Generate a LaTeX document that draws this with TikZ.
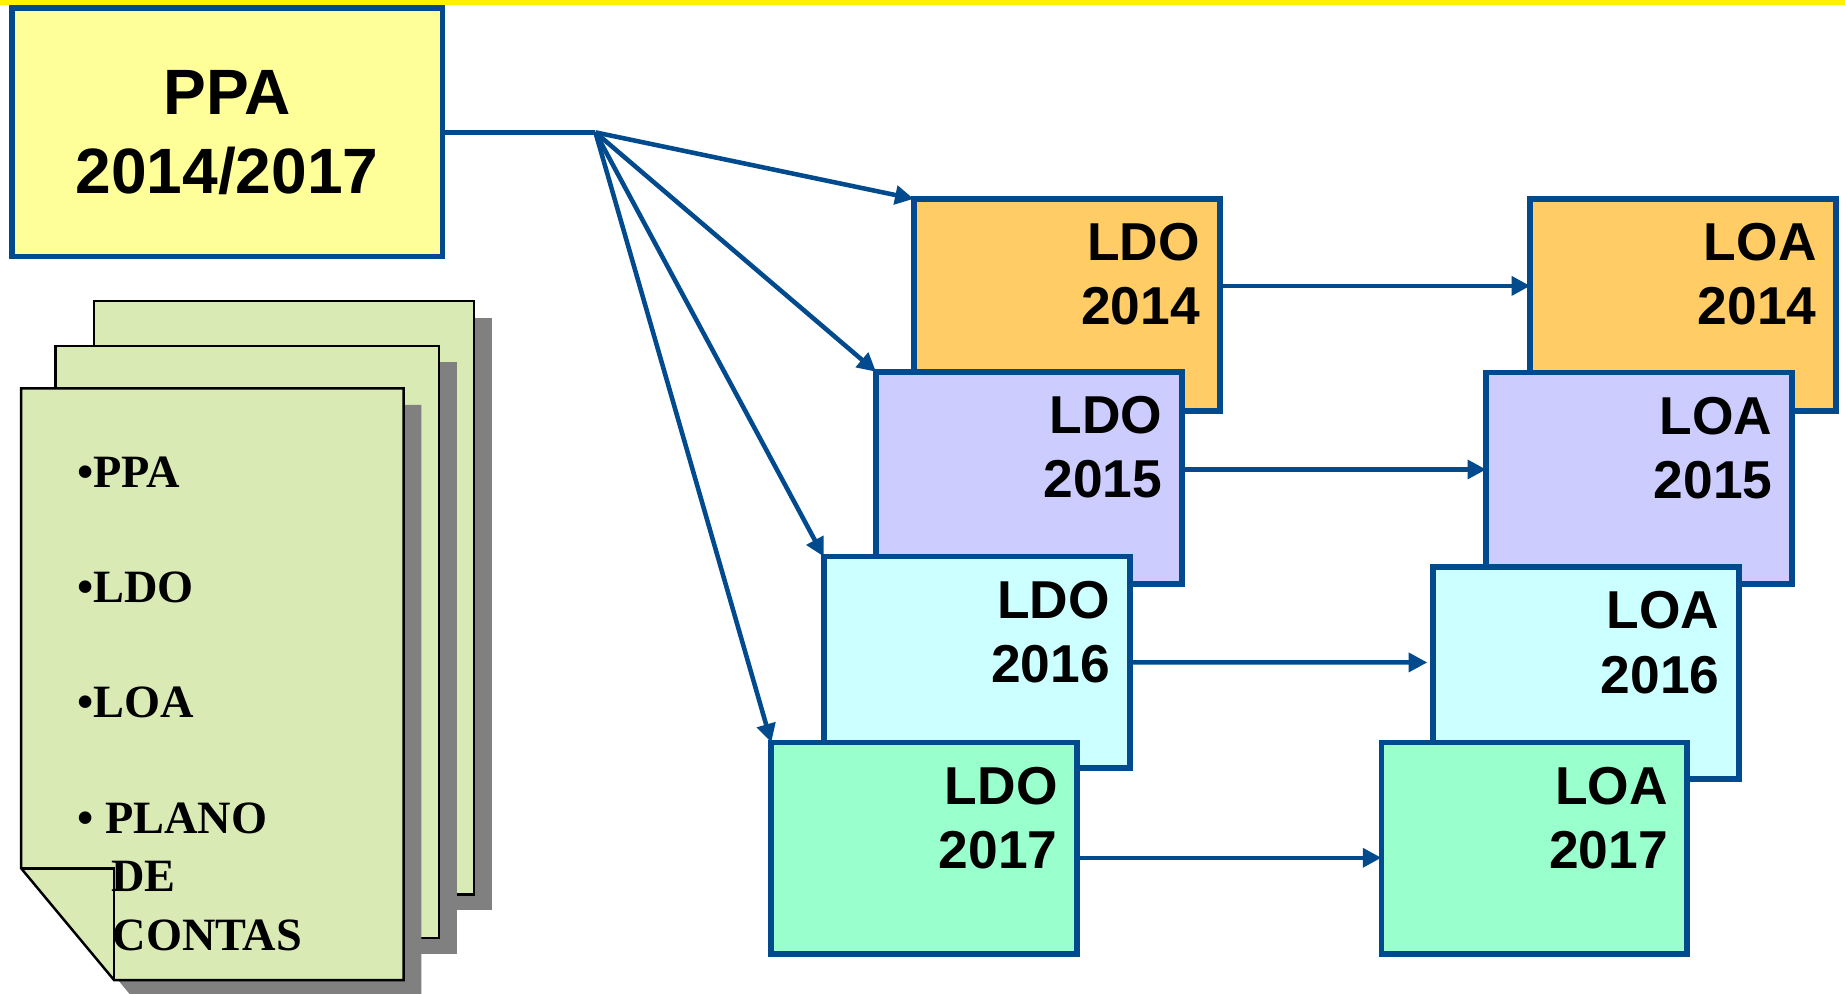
\documentclass[tikz,border=0pt]{standalone}
\usepackage{fontspec}
\setmainfont{Liberation Serif}
\setsansfont{Liberation Sans}
\usetikzlibrary{arrows.meta}

\definecolor{lineblue}{HTML}{004A8D}
\definecolor{ppafill}{HTML}{FFFF99}
\definecolor{fill14}{HTML}{FFCC66}
\definecolor{fill15}{HTML}{CCCCFF}
\definecolor{fill16}{HTML}{CCFFFF}
\definecolor{fill17}{HTML}{99FFCC}
\definecolor{pagefill}{HTML}{D9EAB5}
\definecolor{pageshadow}{HTML}{808080}

\begin{document}
\begin{tikzpicture}[
    yearbox/.style={draw=lineblue, line width=1.4pt, outer sep=0pt,
      minimum width=2.6cm, minimum height=1.8cm},
    yeartext/.style={anchor=north east, inner xsep=0.16cm, inner ysep=0.2cm,
      align=right, font=\sffamily\bfseries\fontsize{12.9}{15.6}\selectfont},
    flow/.style={-{Triangle[length=4.5pt,width=4.5pt]}, draw=lineblue, line width=1.1pt},
    bullet/.style={anchor=base west, inner sep=0pt,
      font=\bfseries\fontsize{11.2}{13}\selectfont}
  ]
  \useasboundingbox (0,0) rectangle (15.68,-8.44);
  \fill[yellow] (0,0) rectangle (15.68,-0.04);

  % plan
  \node[draw=lineblue, line width=1.4pt, fill=ppafill, outer sep=0pt,
    minimum width=3.66cm, minimum height=2.11cm, align=center,
    font=\sffamily\bfseries\fontsize{15.5}{19}\selectfont]
    (ppa) at (1.93,-1.125) {PPA\\2014/2017};

  % stack of pages
  \fill[pageshadow] (0.95,-2.70) rectangle (4.18,-7.73);
  \filldraw[fill=pagefill, draw=black, line width=0.6pt] (0.80,-2.56) rectangle (4.03,-7.60);
  \fill[pageshadow] (0.62,-3.08) rectangle (3.88,-8.11);
  \filldraw[fill=pagefill, draw=black, line width=0.6pt] (0.47,-2.94) rectangle (3.73,-7.97);
  \fill[pageshadow] (0.33,-3.44) -- (3.58,-3.44) -- (3.58,-8.47) -- (1.12,-8.47) -- (0.33,-7.52) -- cycle;
  \fill[white] (0.18,-7.38) -- (0.18,-8.33) -- (0.97,-8.33) -- cycle;
  \filldraw[fill=pagefill, draw=black, line width=0.6pt]
    (0.18,-3.30) -- (3.43,-3.30) -- (3.43,-8.33) -- (0.97,-8.33) -- (0.18,-7.38) -- cycle;
  \draw[line width=0.6pt] (0.18,-7.38) -- (0.97,-7.38) -- (0.97,-8.33);

  \node[bullet] (lppa) at (0.65,-4.14) {•PPA};
  \node[bullet] (lldo) at (0.65,-5.12) {•LDO};
  \node[bullet] (lloa) at (0.65,-6.10) {•LOA};
  \node[bullet] (lplano) at (0.65,-7.08) {• PLANO};
  \node[bullet] (lde) at (0.94,-7.58) {DE};
  \node[bullet] (lcontas) at (0.95,-8.08) {CONTAS};

  % LDO column
  \node[yearbox, fill=fill14, label={[yeartext]north east:LDO\\2014}] (ldo14) at (9.065,-2.59) {};
  \node[yearbox, fill=fill15, label={[yeartext]north east:LDO\\2015}] (ldo15) at (8.745,-4.06) {};
  \node[yearbox, fill=fill16, label={[yeartext]north east:LDO\\2016}] (ldo16) at (8.30,-5.63) {};
  \node[yearbox, fill=fill17, label={[yeartext]north east:LDO\\2017}] (ldo17) at (7.855,-7.21) {};

  % LOA column
  \node[yearbox, fill=fill14, label={[yeartext]north east:LOA\\2014}] (loa14) at (14.305,-2.59) {};
  \node[yearbox, fill=fill15, label={[yeartext]north east:LOA\\2015}] (loa15) at (13.93,-4.065) {};
  \node[yearbox, fill=fill16, label={[yeartext]north east:LOA\\2016}] (loa16) at (13.48,-5.72) {};
  \node[yearbox, fill=fill17, label={[yeartext]north east:LOA\\2017}] (loa17) at (13.04,-7.21) {};

  % fan from the plan
  \coordinate (fan) at ([xshift=1.3cm]ppa.east);
  \draw[draw=lineblue, line width=1.1pt] (ppa.east) -- (fan);
  \draw[flow] (fan) -- (ldo14.north west);
  \draw[flow] (fan) -- (ldo15.north west);
  \draw[flow] (fan) -- (ldo16.north west);
  \draw[flow] (fan) -- (ldo17.north west);

  % LDO to LOA
  \draw[flow] ([yshift=0.16cm]ldo14.east) -- ([yshift=0.16cm]loa14.west);
  \draw[flow] ([yshift=0.07cm]ldo15.east) -- ([yshift=0.075cm]loa15.west);
  \draw[flow] (ldo16.east) -- ([xshift=-0.05cm,yshift=0.09cm]loa16.west);
  \draw[flow] ([yshift=-0.08cm]ldo17.east) -- ([yshift=-0.08cm]loa17.west);
\end{tikzpicture}
\end{document}
